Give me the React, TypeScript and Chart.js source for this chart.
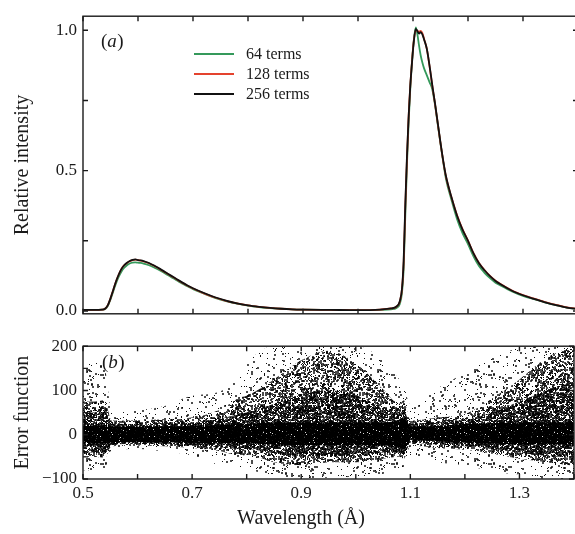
import React, { useEffect, useRef } from 'react';
import { Chart, registerables } from 'chart.js';

Chart.register(...registerables);

const FONT = "'Liberation Serif', 'DejaVu Serif', 'Times New Roman', serif";
const TEXT = '#1a1a1a';

// ---------- Panel (a): relative intensity ----------
const wavelength = [
  0.50, 0.52, 0.535, 0.54, 0.545, 0.55, 0.555, 0.56, 0.565, 0.57,
  0.575, 0.58, 0.585, 0.59, 0.595, 0.60, 0.605, 0.61, 0.62, 0.63,
  0.64, 0.65, 0.66, 0.67, 0.68, 0.69, 0.70, 0.72, 0.74, 0.76,
  0.78, 0.80, 0.82, 0.84, 0.86, 0.88, 0.90, 0.95, 1.00, 1.04,
  1.06, 1.07, 1.076, 1.08, 1.083, 1.086, 1.089, 1.092, 1.095, 1.098,
  1.101, 1.105, 1.108, 1.111, 1.114, 1.117, 1.12, 1.125, 1.13, 1.135,
  1.14, 1.145, 1.15, 1.155, 1.16, 1.17, 1.18, 1.19, 1.20, 1.21,
  1.22, 1.23, 1.24, 1.25, 1.26, 1.28, 1.30, 1.32, 1.34, 1.36,
  1.38, 1.40,
];

const terms64 = [
  0.004, 0.004, 0.005, 0.007, 0.018, 0.041, 0.07, 0.098, 0.122, 0.141,
  0.154, 0.163, 0.169, 0.172, 0.173, 0.172, 0.171, 0.169, 0.163, 0.154,
  0.144, 0.133, 0.121, 0.11, 0.098, 0.088, 0.078, 0.062, 0.047, 0.035,
  0.026, 0.019, 0.014, 0.01, 0.008, 0.006, 0.005, 0.004, 0.003, 0.004,
  0.006, 0.011, 0.025, 0.065, 0.15, 0.34, 0.52, 0.67, 0.79, 0.88,
  0.955, 1.01, 0.985, 0.945, 0.91, 0.885, 0.865, 0.84, 0.815, 0.79,
  0.735, 0.665, 0.595, 0.53, 0.47, 0.395, 0.328, 0.277, 0.238, 0.195,
  0.16, 0.136, 0.117, 0.101, 0.09, 0.07, 0.054, 0.042, 0.031, 0.021,
  0.012, 0.007,
];

const terms128 = [
  0.004, 0.004, 0.005, 0.008, 0.02, 0.045, 0.075, 0.105, 0.13, 0.15,
  0.163, 0.171, 0.177, 0.181, 0.183, 0.181, 0.179, 0.177, 0.170, 0.160,
  0.149, 0.137, 0.125, 0.113, 0.101, 0.090, 0.080, 0.063, 0.048, 0.036,
  0.027, 0.020, 0.015, 0.011, 0.008, 0.006, 0.005, 0.004, 0.003, 0.005,
  0.009, 0.015, 0.033, 0.078, 0.17, 0.37, 0.54, 0.69, 0.80, 0.885,
  0.955, 1.0, 0.998, 0.995, 0.998, 0.99, 0.97, 0.935, 0.873, 0.803,
  0.738, 0.668, 0.598, 0.533, 0.478, 0.404, 0.342, 0.292, 0.251, 0.206,
  0.171, 0.146, 0.125, 0.108, 0.095, 0.073, 0.057, 0.044, 0.032, 0.022,
  0.013, 0.008,
];

const terms256 = [
  0.004, 0.004, 0.005, 0.008, 0.02, 0.045, 0.075, 0.105, 0.13, 0.15,
  0.163, 0.172, 0.178, 0.182, 0.184, 0.181, 0.180, 0.178, 0.171, 0.161,
  0.150, 0.138, 0.126, 0.114, 0.102, 0.091, 0.081, 0.064, 0.049, 0.037,
  0.027, 0.020, 0.015, 0.011, 0.008, 0.006, 0.005, 0.004, 0.003, 0.005,
  0.009, 0.016, 0.035, 0.08, 0.18, 0.38, 0.55, 0.69, 0.80, 0.88,
  0.95, 1.005, 0.997, 0.988, 0.993, 0.985, 0.968, 0.935, 0.875, 0.805,
  0.74, 0.67, 0.60, 0.535, 0.48, 0.405, 0.34, 0.29, 0.25, 0.205,
  0.17, 0.145, 0.124, 0.107, 0.094, 0.072, 0.056, 0.043, 0.031, 0.021,
  0.012, 0.007,
];

const seriesLabels = ['64 terms', '128 terms', '256 terms'];
const seriesColors = ['#35995b', '#e4432e', '#111111'];

// ---------- Panel (b): error function scatter, read as density envelopes ----------
const errWavelength = [
  0.50, 0.52, 0.54, 0.546, 0.552, 0.60, 0.65, 0.70, 0.75, 0.79,
  0.80, 0.85, 0.90, 0.95, 1.00, 1.05, 1.08, 1.088, 1.095, 1.10,
  1.15, 1.20, 1.25, 1.30, 1.35, 1.40,
];
const coreHigh = [20, 20, 22, 22, 19, 18, 19, 20, 22, 24, 24, 28, 28, 28, 28, 28, 34, 38, 28, 19, 20, 24, 26, 28, 28, 28];
const coreLow = [-18, -18, -20, -20, -17, -17, -17, -18, -20, -20, -20, -22, -24, -24, -24, -24, -28, -34, -22, -11, -14, -18, -20, -22, -22, -22];
const denseHigh = [50, 50, 52, 40, 25, 24, 25, 28, 36, 48, 50, 70, 90, 100, 90, 60, 48, 55, 38, 26, 28, 34, 50, 75, 100, 120];
const denseLow = [-40, -40, -42, -32, -22, -21, -21, -24, -28, -32, -32, -42, -50, -48, -48, -40, -40, -45, -30, -18, -22, -26, -32, -40, -48, -52];
const midHigh = [75, 75, 78, 55, 32, 33, 35, 39, 56, 85, 88, 125, 168, 190, 161, 103, 70, 78, 50, 32, 39, 47, 82, 125, 174, 200];
const midLow = [-50, -50, -52, -40, -26, -25, -26, -30, -37, -47, -45, -62, -69, -62, -62, -54, -50, -54, -38, -25, -30, -34, -43, -54, -62, -70];
const outerHigh = [160, 165, 150, 100, 50, 55, 65, 88, 97, 140, 160, 200, 200, 200, 200, 168, 125, 115, 80, 67, 105, 140, 174, 196, 200, 200];
const outerLow = [-80, -80, -80, -55, -35, -32, -38, -47, -69, -75, -78, -92, -100, -97, -95, -88, -75, -75, -55, -47, -62, -69, -83, -90, -100, -100];

// ---------- Axis ticks ----------
const xTickValues = [0.5, 0.6, 0.7, 0.8, 0.9, 1.0, 1.1, 1.2, 1.3, 1.4];
const xTickLabels = ['0.5', '0.7', '0.9', '1.1', '1.3'];
const intensityTicks = [0, 0.25, 0.5, 0.75, 1.0];
const intensityLabels = ['0.0', '0.5', '1.0'];
const errorTicks = [-100, -50, 0, 50, 100, 150, 200];
const errorLabels = ['\u2212100', '0', '100', '200'];

const pts = (xs: number[], ys: number[]) => xs.map((x, i) => ({ x, y: ys[i] }));

// texture noise for the fill patterns (style only)
function noise(i: number) {
  let t = (i + 0x6d2b79f5) | 0;
  t = Math.imul(t ^ (t >>> 15), t | 1);
  t ^= t + Math.imul(t ^ (t >>> 7), t | 61);
  return ((t ^ (t >>> 14)) >>> 0) / 4294967296;
}

function dotPattern(ctx: CanvasRenderingContext2D, coverage: number, seed: number) {
  const c = document.createElement('canvas');
  c.width = 97;
  c.height = 89;
  const g = c.getContext('2d')!;
  let k = seed * 1000003;
  for (let y = 0; y < c.height; y++) {
    for (let x = 0; x < c.width; x++) {
      k += 3;
      if (noise(k) < coverage) {
        const big = noise(k + 1) < 0.45;
        g.fillStyle = big ? 'rgba(0,0,0,0.7)' : 'rgba(0,0,0,0.95)';
        g.fillRect(x, y, big ? 2 : 1, big ? 2 : 1);
      }
    }
  }
  return ctx.createPattern(c, 'repeat')!;
}

function solidPattern(ctx: CanvasRenderingContext2D, specks: number, seed: number) {
  const c = document.createElement('canvas');
  c.width = 97;
  c.height = 89;
  const g = c.getContext('2d')!;
  g.fillStyle = '#000';
  g.fillRect(0, 0, c.width, c.height);
  g.fillStyle = 'rgba(255,255,255,0.85)';
  let k = seed * 1000003;
  for (let y = 0; y < c.height; y++) {
    for (let x = 0; x < c.width; x++) {
      k += 3;
      if (noise(k) < specks) g.fillRect(x, y, 1, 1);
    }
  }
  return ctx.createPattern(c, 'repeat')!;
}

function frameTicksPlugin(xt: number[], yt: number[]) {
  return {
    id: 'frameTicks',
    afterDatasetsDraw(chart: any) {
      const { ctx, chartArea: a, scales } = chart;
      const L = 5;
      ctx.save();
      ctx.strokeStyle = TEXT;
      ctx.lineWidth = 1.4;
      ctx.strokeRect(a.left, a.top, a.right - a.left, a.bottom - a.top);
      ctx.beginPath();
      xt.forEach((v) => {
        const p = scales.x.getPixelForValue(v);
        ctx.moveTo(p, a.bottom);
        ctx.lineTo(p, a.bottom - L);
        ctx.moveTo(p, a.top);
        ctx.lineTo(p, a.top + L);
      });
      yt.forEach((v) => {
        const p = scales.y.getPixelForValue(v);
        ctx.moveTo(a.left, p);
        ctx.lineTo(a.left + L, p);
        ctx.moveTo(a.right, p);
        ctx.lineTo(a.right - L, p);
      });
      ctx.stroke();
      ctx.restore();
    },
  };
}

function panelLabelPlugin(letter: string, x: number, y: number) {
  return {
    id: 'panelLabel' + letter,
    afterDraw(chart: any) {
      const ctx = chart.ctx;
      ctx.save();
      ctx.fillStyle = TEXT;
      ctx.textBaseline = 'alphabetic';
      ctx.textAlign = 'left';
      let cx = x;
      ctx.font = `19px ${FONT}`;
      ctx.fillText('(', cx, y);
      cx += ctx.measureText('(').width;
      ctx.font = `italic 19px ${FONT}`;
      ctx.fillText(letter, cx, y);
      cx += ctx.measureText(letter).width + 0.5;
      ctx.font = `19px ${FONT}`;
      ctx.fillText(')', cx, y);
      ctx.restore();
    },
  };
}

const xTitlePlugin = {
  id: 'xTitle',
  afterDraw(chart: any) {
    const ctx = chart.ctx;
    ctx.save();
    ctx.fillStyle = TEXT;
    ctx.font = `20px ${FONT}`;
    ctx.textAlign = 'center';
    ctx.textBaseline = 'middle';
    ctx.fillText('Wavelength (Å)', 301, 189);
    ctx.restore();
  },
};

const legendPlugin = {
  id: 'innerLegend',
  afterDraw(chart: any) {
    const ctx = chart.ctx;
    ctx.save();
    ctx.font = `16px ${FONT}`;
    ctx.textBaseline = 'middle';
    ctx.textAlign = 'left';
    seriesLabels.forEach((lab, i) => {
      const y = 54 + i * 20;
      ctx.strokeStyle = seriesColors[i];
      ctx.lineWidth = 1.8;
      ctx.beginPath();
      ctx.moveTo(194, y);
      ctx.lineTo(234, y);
      ctx.stroke();
      ctx.fillStyle = TEXT;
      ctx.fillText(lab, 246, y + 1);
    });
    ctx.restore();
  },
};

export default function App() {
  const topRef = useRef<HTMLCanvasElement>(null);
  const botRef = useRef<HTMLCanvasElement>(null);

  useEffect(() => {
    const charts: Chart[] = [];
    const tickFont = { family: FONT, size: 17 };
    const titleFont = { family: FONT, size: 20 };

    if (topRef.current) {
      const series = [terms256, terms128, terms64];
      const colors = [seriesColors[2], seriesColors[1], seriesColors[0]];
      const labels = [seriesLabels[2], seriesLabels[1], seriesLabels[0]];
      charts.push(
        new Chart(topRef.current, {
          type: 'line',
          data: {
            datasets: series.map((s, i) => ({
              label: labels[i],
              data: pts(wavelength, s),
              borderColor: colors[i],
              backgroundColor: colors[i],
              borderWidth: 1.8,
              pointRadius: 0,
              fill: false,
              cubicInterpolationMode: 'monotone' as const,
              order: i + 1,
            })),
          },
          options: {
            animation: false,
            responsive: false,
            layout: { padding: { top: 10, bottom: 13, left: 0, right: 0 } },
            plugins: { legend: { display: false }, tooltip: { enabled: false } },
            scales: {
              x: { type: 'linear', min: 0.5, max: 1.4, display: false },
              y: {
                type: 'linear',
                min: -0.01,
                max: 1.05,
                grid: { display: false, drawTicks: false },
                border: { display: false },
                afterFit: (s: any) => {
                  s.width = 83;
                },
                ticks: {
                  stepSize: 0.25,
                  includeBounds: false,
                  padding: 6,
                  color: TEXT,
                  font: tickFont,
                  callback: (v: any) => {
                    const idx = intensityTicks.findIndex((t) => Math.abs(t - v) < 1e-6);
                    return idx % 2 === 0 && idx >= 0 ? intensityLabels[idx / 2] : '';
                  },
                },
                title: {
                  display: true,
                  text: 'Relative intensity',
                  color: TEXT,
                  font: titleFont,
                  padding: { top: 11, bottom: 0 },
                },
              },
            },
          },
          plugins: [frameTicksPlugin(xTickValues, intensityTicks), legendPlugin, panelLabelPlugin('a', 101, 47)],
        } as any)
      );
    }

    if (botRef.current) {
      const ctx = botRef.current.getContext('2d')!;
      const sparse = dotPattern(ctx, 0.05, 3);
      const mid = dotPattern(ctx, 0.26, 11);
      const dense = dotPattern(ctx, 0.36, 17);
      const core = solidPattern(ctx, 0.1, 29);
      const clear = 'rgba(0,0,0,0)';
      const band = (ys: number[], fill: any, bg: any) => ({
        data: pts(errWavelength, ys),
        borderWidth: 0,
        borderColor: clear,
        backgroundColor: bg,
        pointRadius: 0,
        fill,
        cubicInterpolationMode: 'monotone' as const,
      });
      charts.push(
        new Chart(botRef.current, {
          type: 'line',
          data: {
            datasets: [
              band(outerHigh, '+1', sparse),
              band(outerLow, false, clear),
              band(midHigh, '+1', mid),
              band(midLow, false, clear),
              band(denseHigh, '+1', dense),
              band(denseLow, false, clear),
              band(coreHigh, '+1', core),
              band(coreLow, false, clear),
            ],
          },
          options: {
            animation: false,
            responsive: false,
            layout: { padding: { top: 9, bottom: 0, left: 0, right: 0 } },
            plugins: { legend: { display: false }, tooltip: { enabled: false } },
            scales: {
              x: {
                type: 'linear',
                min: 0.5,
                max: 1.4,
                grid: { display: false, drawTicks: false },
                border: { display: false },
                afterFit: (s: any) => {
                  s.height = 55;
                },
                ticks: {
                  stepSize: 0.1,
                  autoSkip: false,
                  maxRotation: 0,
                  padding: 4,
                  color: TEXT,
                  font: tickFont,
                  callback: (v: any) => {
                    const idx = xTickValues.findIndex((t) => Math.abs(t - v) < 1e-6);
                    return idx % 2 === 0 && idx >= 0 ? xTickLabels[idx / 2] ?? '' : '';
                  },
                },
                title: { display: false },
              },
              y: {
                type: 'linear',
                min: -100,
                max: 200,
                grid: { display: false, drawTicks: false },
                border: { display: false },
                afterFit: (s: any) => {
                  s.width = 83;
                },
                ticks: {
                  stepSize: 50,
                  padding: 6,
                  color: TEXT,
                  font: tickFont,
                  callback: (v: any) => {
                    const idx = errorTicks.findIndex((t) => Math.abs(t - v) < 1e-6);
                    return idx % 2 === 0 && idx >= 0 ? errorLabels[idx / 2] : '';
                  },
                },
                title: {
                  display: true,
                  text: 'Error function',
                  color: TEXT,
                  font: titleFont,
                  padding: { top: 11, bottom: 0 },
                },
              },
            },
          },
          plugins: [frameTicksPlugin(xTickValues, errorTicks), panelLabelPlugin('b', 102, 38), xTitlePlugin],
        } as any)
      );
    }

    return () => charts.forEach((c) => c.destroy());
  }, []);

  return (
    <div
      style={{
        position: 'fixed',
        left: 0,
        top: 0,
        width: 575,
        height: 534,
        overflow: 'hidden',
        background: '#ffffff',
      }}
    >
      <canvas ref={topRef} width={578} height={330} style={{ position: 'absolute', left: 0, top: 0, display: 'block' }} />
      <canvas ref={botRef} width={578} height={204} style={{ position: 'absolute', left: 0, top: 330, display: 'block' }} />
    </div>
  );
}
